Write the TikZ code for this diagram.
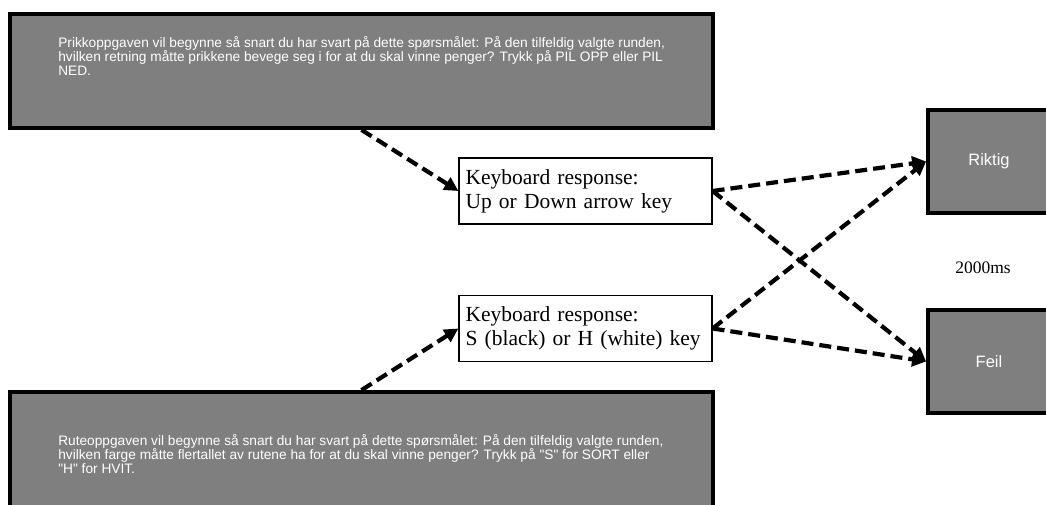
\documentclass[tikz,border=0pt]{standalone}
\usepackage{fontspec}
\setmainfont{Liberation Serif}
\newfontfamily\arialfont{Liberation Sans}
\usepackage{tikz}
\usetikzlibrary{arrows.meta, positioning, shadows}
\usepackage{xcolor}
\definecolor{screengray}{HTML}{7F7F7F}

\begin{document}
\begin{tikzpicture}[x=1pt, y=1pt,
  screen/.style={rectangle, draw, line width=3.8pt, fill=screengray,
                 drop shadow={shadow xshift=2pt, shadow yshift=-2pt, opacity=.25},
                 inner sep=0pt},
  prompt/.style={anchor=north west, align=left, text=white, inner sep=0pt,
                 font=\arialfont\fontsize{13.7}{14}\selectfont},
  keybox/.style={rectangle, draw, line width=1.2pt, fill=white, align=left,
                 minimum width=253pt, minimum height=66pt, text width=240pt,
                 inner xsep=6.5pt, font=\fontsize{21.5}{24}\selectfont},
  fb/.style={screen, minimum width=122pt, minimum height=103pt, text=white,
             font=\arialfont\fontsize{16.5}{18}\selectfont},
  resp/.style={-{Triangle[length=14pt, width=14pt]}, line width=4.2pt,
               dash pattern=on 12pt off 6pt}
]
\clip (0,0) rectangle (1046,505);
% instruction screens
\node[screen, minimum width=703pt, minimum height=114pt] (dots) at (361.5,434) {};
\node[prompt] (dotstxt) at ([xshift=50pt, yshift=-24pt]dots.north west)
  {Prikkoppgaven vil begynne så snart du har svart på dette spørsmålet: På den tilfeldig valgte runden,\\
   hvilken retning måtte prikkene bevege seg i for at du skal vinne penger? Trykk på PIL OPP eller PIL\\
   NED.};
\node[screen, minimum width=703pt, minimum height=153pt] (grid) at (361.5,36.5) {};
\node[prompt] (gridtxt) at ([xshift=50pt, yshift=-44pt]grid.north west)
  {Ruteoppgaven vil begynne så snart du har svart på dette spørsmålet: På den tilfeldig valgte runden,\\
   hvilken farge måtte flertallet av rutene ha for at du skal vinne penger? Trykk på "S" for SORT eller\\
   "H" for HVIT.};
% responses
\node[keybox] (key1) at (585.5,314)   {Keyboard response:\\Up or Down arrow key};
\node[keybox] (key2) at (585.5,176.5) {Keyboard response:\\S (black) or H (white) key};
% feedback
\node[fb] (right) at (989,343.5) {Riktig};
\node[fb] (wrong) at (989,143.5) {Feil};
\node[font=\fontsize{17.5}{21}\selectfont] (dur) at (983,237) {2000ms};
% arrows
\draw[resp] (dots.south) -- (key1.west);
\draw[resp] (grid.north) -- (key2.west);
\draw[resp] (key1.east) -- (right.west);
\draw[resp] (key1.east) -- (wrong.west);
\draw[resp] (key2.east) -- (right.west);
\draw[resp] (key2.east) -- (wrong.west);
\end{tikzpicture}
\end{document}
